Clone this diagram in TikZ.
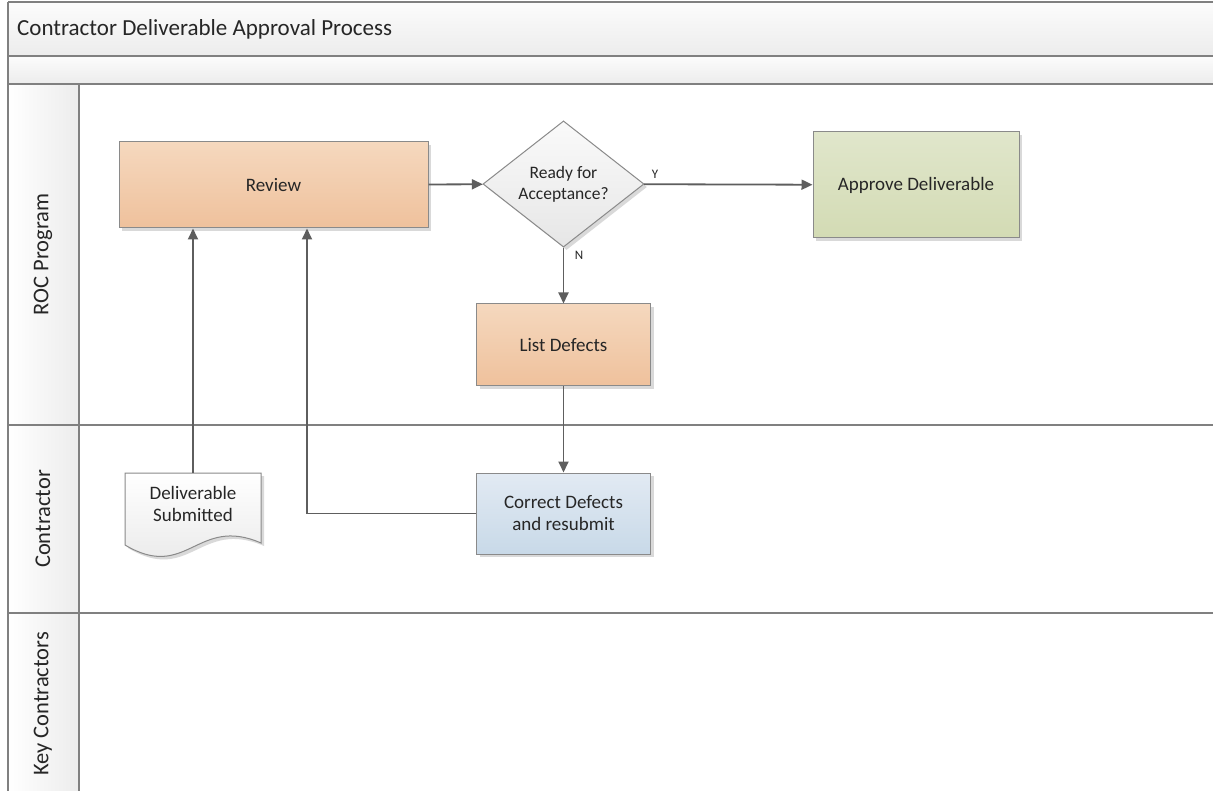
\documentclass[tikz,border=0pt]{standalone}
\usepackage{fontspec}
\setmainfont{Carlito}
\usetikzlibrary{arrows.meta,shapes.geometric,shadows,calc}

\definecolor{lanegray}{HTML}{808080}
\definecolor{boxline}{HTML}{8A8A8A}
\definecolor{connector}{HTML}{5E5E5E}
\definecolor{textcol}{HTML}{262626}
\definecolor{bandtop}{HTML}{FCFCFC}
\definecolor{bandbot}{HTML}{ECECEC}
\definecolor{hdrright}{HTML}{ECECEC}
\definecolor{orangetop}{HTML}{F5D8BE}
\definecolor{orangebot}{HTML}{EFC19C}
\definecolor{greentop}{HTML}{E0E6CB}
\definecolor{greenbot}{HTML}{D3DBB4}
\definecolor{bluetop}{HTML}{E2EAF3}
\definecolor{bluebot}{HTML}{C8D9E8}
\definecolor{graytop}{HTML}{FAFAFA}
\definecolor{graybot}{HTML}{E6E6E6}
\definecolor{shadowcol}{HTML}{D9D9D9}

\tikzset{
  frameline/.style={draw=lanegray, line width=1.6pt},
  boxbase/.style={draw=boxline, line width=1pt, text=textcol, align=center,
    inner sep=0pt, font=\fontsize{19}{22}\selectfont,
    drop shadow={shadow xshift=3pt, shadow yshift=-3pt, fill=shadowcol, opacity=1}},
  orangebox/.style={boxbase, rectangle, top color=orangetop, bottom color=orangebot},
  greenbox/.style={boxbase, rectangle, top color=greentop, bottom color=greenbot},
  bluebox/.style={boxbase, rectangle, top color=bluetop, bottom color=bluebot},
  decision/.style={boxbase, diamond, top color=graytop, bottom color=graybot,
    font=\fontsize{17.5}{21}\selectfont},
  flow/.style={draw=connector, line width=1.8pt, -{Triangle[length=11pt, width=10pt]}},
  branch/.style={text=textcol, font=\fontsize{13}{15}\selectfont, inner sep=0pt},
  lanelabel/.style={text=textcol, font=\fontsize{22.5}{26}\selectfont, rotate=90, inner sep=0pt},
}

\begin{document}
\begin{tikzpicture}[x=1pt, y=-1pt]
\useasboundingbox (0,0) rectangle (1213,791);
\fill[white] (0,0) rectangle (1213,791);

% title and spacer bands
\path[top color=bandtop, bottom color=bandbot] (8,2) rectangle (1213,56);
\path[top color=bandtop, bottom color=bandbot] (8,56) rectangle (1213,84);
% lane header column
\path[left color=white, right color=hdrright] (8,84) rectangle (79,791);

% pool frame and lane separators
\draw[frameline] (8,2) -- (1213,2);
\draw[frameline] (8,56) -- (1213,56);
\draw[frameline] (8,84) -- (1213,84);
\draw[frameline] (8,425) -- (1213,425);
\draw[frameline] (8,613) -- (1213,613);
\draw[frameline] (8,2) -- (8,791);
\draw[frameline] (79,84) -- (79,791);

% titles
\node[anchor=west, text=textcol, font=\fontsize{23}{27}\selectfont, inner sep=0pt] (title) at (17,29) {Contractor Deliverable Approval Process};
\node[lanelabel] (laneroc) at (43,254.5) {ROC Program};
\node[lanelabel] (lanecon) at (43,519) {Contractor};
\node[lanelabel] (lanekey) at (43,704) {Key Contractors};

% process steps
\node[orangebox, minimum width=309pt, minimum height=86pt] (review) at (273.5,185) {Review};
\node[decision, minimum width=161pt, minimum height=122pt] (dec) at (563.5,184) {Ready for\\Acceptance?};
\node[greenbox, minimum width=206pt, minimum height=106pt] (approve) at (916,185) {Approve Deliverable};
\node[orangebox, minimum width=174pt, minimum height=82pt] (listdef) at (563.5,345) {List Defects};
\node[bluebox, minimum width=174pt, minimum height=81pt] (correct) at (563.5,513.5) {Correct Defects\\and resubmit};

% document shape with wavy bottom edge
\fill[shadowcol] ($(125,473)+(3,3)$) -- ($(261,473)+(3,3)$) -- ($(261,543)+(3,3)$)
  .. controls ($(197,515)+(3,3)$) and ($(187,582)+(3,3)$) .. ($(125,545)+(3,3)$) -- cycle;
\path[draw=boxline, line width=1pt, top color=white, bottom color=graybot]
  (125,473) -- (261,473) -- (261,543)
  .. controls (197,515) and (187,582) .. (125,545) -- cycle;
\node[text=textcol, align=center, inner sep=0pt, font=\fontsize{19}{22}\selectfont,
  minimum width=136pt, minimum height=62pt] (doc) at (193,504) {Deliverable\\Submitted};

% branch labels
\node[branch] (ylab) at (655,174) {Y};
\node[branch] (nlab) at (579,255) {N};

% connectors
\coordinate (resubmitx) at (307,0);
\draw[flow] (review) -- (dec);
\draw[flow] (dec) -- (approve);
\draw[flow] (dec.south) -- (listdef.north);
\draw[flow] (listdef.south) -- (correct.north);
\draw[flow] (doc.north) -- (doc.north |- review.south);
\draw[flow] (correct.west) -| (resubmitx |- review.south);
\end{tikzpicture}
\end{document}
